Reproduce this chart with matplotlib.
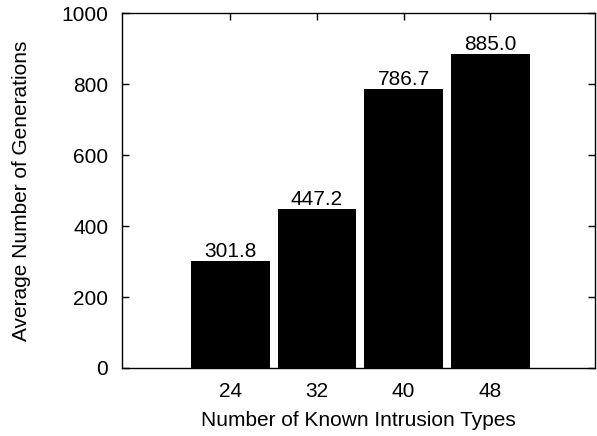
import matplotlib
matplotlib.use("Agg")
import matplotlib.pyplot as plt
import numpy as np

# data
intrusion_types = ["24", "32", "40", "48"]
avg_generations = [301.8, 447.2, 786.7, 885.0]
y_ticks = [0, 200, 400, 600, 800, 1000]

plt.rcParams["font.family"] = ["Liberation Sans", "DejaVu Sans"]
fs = 15

fig = plt.figure(figsize=(5.97, 4.36), dpi=100)
ax = fig.add_axes([0.2044, 0.156, 0.7922, 0.814])

x = np.arange(len(intrusion_types))
ax.bar(x, avg_generations, width=0.91, color="black", zorder=3)

# value labels just above each bar
for xi, v in zip(x, avg_generations):
    ax.annotate(f"{v:.1f}", (xi, v), xytext=(0, 3), textcoords="offset points",
                ha="center", va="baseline", fontsize=fs)

ax.set_xlim(-1.25, 4.21)
ax.set_ylim(0, 1000)
ax.set_xticks(x)
ax.set_xticklabels(intrusion_types)
ax.set_yticks(y_ticks)

ax.tick_params(direction="in", length=5, width=1, top=True, right=True,
               labelsize=fs)
ax.tick_params(axis="x", pad=10)
ax.tick_params(axis="y", pad=10)
for s in ax.spines.values():
    s.set_linewidth(1)

ax.set_xlabel("Number of Known Intrusion Types", fontsize=fs, labelpad=7)
ax.set_ylabel("Average Number of Generations", fontsize=fs, labelpad=22)

fig.savefig("out.png", dpi=100)
